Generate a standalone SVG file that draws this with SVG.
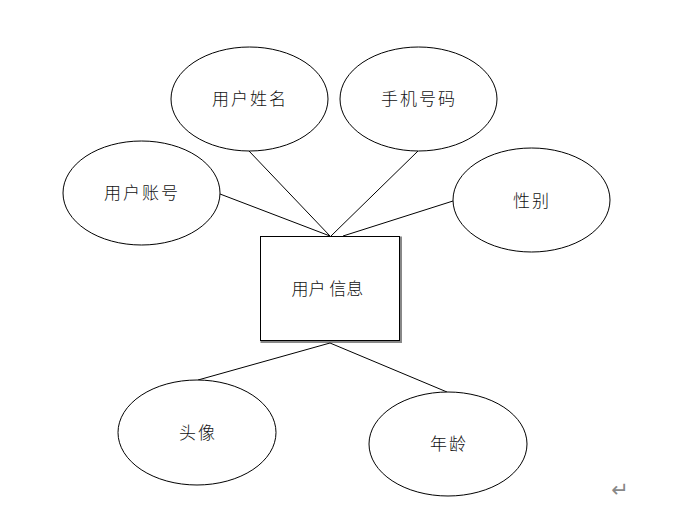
<svg xmlns="http://www.w3.org/2000/svg" width="695" height="510" viewBox="0 0 695 510">
<style>
.e{fill:#fff;stroke:#000;stroke-width:1}
.t{font-family:"Noto Sans CJK SC","Noto Sans CJK JP",sans-serif;font-size:17px;font-weight:300;letter-spacing:2px;fill:#111;text-anchor:middle;dominant-baseline:central}
.c line{stroke:#000;stroke-width:1}
</style>
<rect width="695" height="510" fill="#fff"/>
<g id="entity">
<rect x="261.5" y="237.5" width="139.5" height="104.5" fill="none" stroke="#888" stroke-width="2"/>
<rect x="260.5" y="236.5" width="139" height="104" class="e"/>
<text class="t" x="327.5" y="287" style="letter-spacing:0">用户 信息</text>
</g>
<g class="c">
<line x1="249" y1="151" x2="330" y2="236"/>
<line x1="220" y1="194" x2="330" y2="236"/>
<line x1="418" y1="151" x2="331" y2="236"/>
<line x1="453" y1="201" x2="343" y2="236"/>
<line x1="330" y1="343" x2="198" y2="380"/>
<line x1="330" y1="343" x2="447" y2="392"/>
</g>
<g id="name"><ellipse class="e" cx="249.5" cy="99" rx="78.5" ry="52"/><text class="t" x="250" y="97">用户姓名</text></g>
<g id="phone"><ellipse class="e" cx="418.5" cy="99" rx="78.5" ry="52"/><text class="t" x="419" y="97">手机号码</text></g>
<g id="account"><ellipse class="e" cx="141.5" cy="193" rx="78.5" ry="52"/><text class="t" x="142" y="191">用户账号</text></g>
<g id="gender"><ellipse class="e" cx="531.5" cy="200" rx="78.5" ry="52"/><text class="t" x="532" y="199">性别</text></g>
<g id="avatar"><ellipse class="e" cx="197" cy="432.5" rx="79" ry="52.5"/><text class="t" x="198" y="431">头像</text></g>
<g id="age"><ellipse class="e" cx="448" cy="444" rx="79" ry="52"/><text class="t" x="449" y="442">年龄</text></g>
<text x="620" y="490" font-family="DejaVu Sans,sans-serif" font-size="21" fill="#888" text-anchor="middle" dominant-baseline="central">↵</text>
</svg>
